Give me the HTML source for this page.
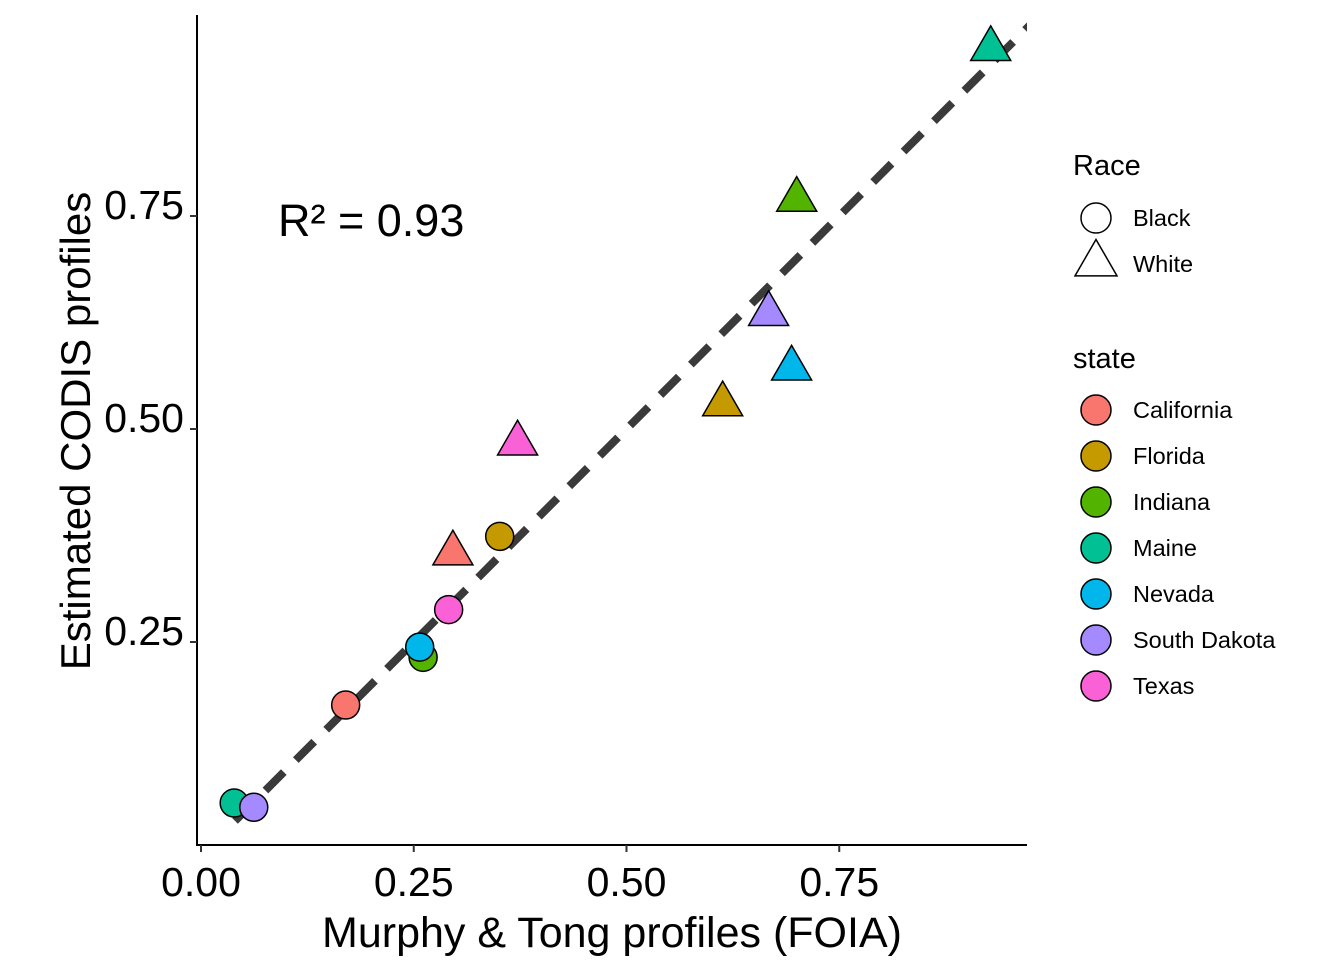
<!DOCTYPE html>
<html><head><meta charset="utf-8"><style>
body{margin:0;background:#fff}
svg{display:block;font-family:"Liberation Sans",Arial,sans-serif}
</style></head><body>
<svg id="chart" width="1344" height="960" viewBox="0 0 1344 960">
<g id="plot"></g>
<g id="axes"></g>
<g id="legend"></g>
</svg>
<script>
const states=["California","Florida","Indiana","Maine","Nevada","South Dakota","Texas"];
const stateColors=["#F8766D","#C49A00","#53B400","#00C094","#00B6EB","#A58AFF","#FB61D7"];
const blackX=[0.170,0.351,0.261,0.039,0.257,0.062,0.291];
const blackY=[0.176,0.374,0.232,0.061,0.244,0.056,0.288];
const whiteX=[0.296,0.613,0.700,0.928,0.694,0.667,0.372];
const whiteY=[0.356,0.531,0.771,0.948,0.573,0.637,0.485];
const xTicks=[0,0.25,0.5,0.75];
const xTickLabels=["0.00","0.25","0.50","0.75"];
const yTicks=[0.25,0.5,0.75];
const yTickLabels=["0.25","0.50","0.75"];
const fitLine=[0.04,0.975];
const r2Label="R² = 0.93";

const NS="http://www.w3.org/2000/svg";
const L=197,R=1027,T=15,B=845;
const sx=v=>201+851*v;
const sy=v=>855-852*v;
function mk(tag,attrs,parent){const e=document.createElementNS(NS,tag);for(const k in attrs)e.setAttribute(k,attrs[k]);parent.appendChild(e);return e;}
const plot=document.getElementById('plot'),axes=document.getElementById('axes'),legend=document.getElementById('legend');

const defs=mk('defs',{},plot);
const cp=mk('clipPath',{id:'pc'},defs);
mk('rect',{x:L,y:T,width:R-L,height:B-T},cp);

const ln=mk('line',{x1:sx(fitLine[0]),y1:sy(fitLine[0]),x2:sx(fitLine[1]),y2:sy(fitLine[1]),stroke:'#3a3a3a','stroke-width':8,'stroke-dasharray':'26,17','clip-path':'url(#pc)'},plot);



function tri(cx,cy,s,fill,parent){
  const h=s*0.866;
  return mk('polygon',{points:`${cx},${cy-h*0.62} ${cx-s/2},${cy+h*0.38} ${cx+s/2},${cy+h*0.38}`,fill:fill,stroke:'#000','stroke-width':1.5},parent);
}
for(let i=0;i<states.length;i++){
  const c=mk('circle',{cx:sx(blackX[i]),cy:sy(blackY[i]),r:14,fill:stateColors[i],stroke:'#000','stroke-width':1.5},plot);
  
  
}
for(let i=0;i<states.length;i++){
  const t=tri(sx(whiteX[i]),sy(whiteY[i]),40,stateColors[i],plot);
  
  
}
const r2=mk('text',{x:278,y:236,'font-size':45,fill:'#000'},plot);
r2.textContent=r2Label;



mk('line',{x1:L,y1:T,x2:L,y2:B+1,stroke:'#000','stroke-width':2},axes);
mk('line',{x1:L-1,y1:B,x2:R,y2:B,stroke:'#000','stroke-width':2},axes);
xTicks.forEach((v,i)=>{
  mk('line',{x1:sx(v),y1:B,x2:sx(v),y2:B+7,stroke:'#333','stroke-width':2},axes);
  const t=mk('text',{x:sx(v),y:896,'font-size':41,'text-anchor':'middle',fill:'#000'},axes);
  t.textContent=xTickLabels[i];
  
  
});
yTicks.forEach((v,i)=>{
  mk('line',{x1:L-7,y1:sy(v),x2:L,y2:sy(v),stroke:'#333','stroke-width':2},axes);
  const t=mk('text',{x:184,y:sy(v)+3,'font-size':41,'text-anchor':'end',fill:'#000'},axes);
  t.textContent=yTickLabels[i];
  
  
});
const xt=mk('text',{x:612,y:947,'font-size':43,'text-anchor':'middle',fill:'#000'},axes);
xt.textContent="Murphy & Tong profiles (FOIA)";


const yt=mk('text',{x:0,y:0,'font-size':42,'text-anchor':'middle',fill:'#000',transform:'translate(90,431) rotate(-90)'},axes);
yt.textContent="Estimated CODIS profiles";



const lt1=mk('text',{x:1073,y:175,'font-size':29,fill:'#000'},legend);
lt1.textContent="Race";


mk('circle',{cx:1096,cy:218,r:15,fill:'none',stroke:'#000','stroke-width':1.5},legend);
tri(1096,262,42,'none',legend);
[["Black",226],["White",272]].forEach(([s,y])=>{
  const t=mk('text',{x:1133,y:y,'font-size':23.5,fill:'#000'},legend);t.textContent=s;
  
  
});
const lt2=mk('text',{x:1073,y:368,'font-size':29,fill:'#000'},legend);
lt2.textContent="state";


states.forEach((s,i)=>{
  const y=410+46*i;
  mk('circle',{cx:1096,cy:y,r:15,fill:stateColors[i],stroke:'#000','stroke-width':1.5},legend);
  const t=mk('text',{x:1133,y:y+8,'font-size':23.5,fill:'#000'},legend);t.textContent=s;
  
  
});
</script>
</body></html>
